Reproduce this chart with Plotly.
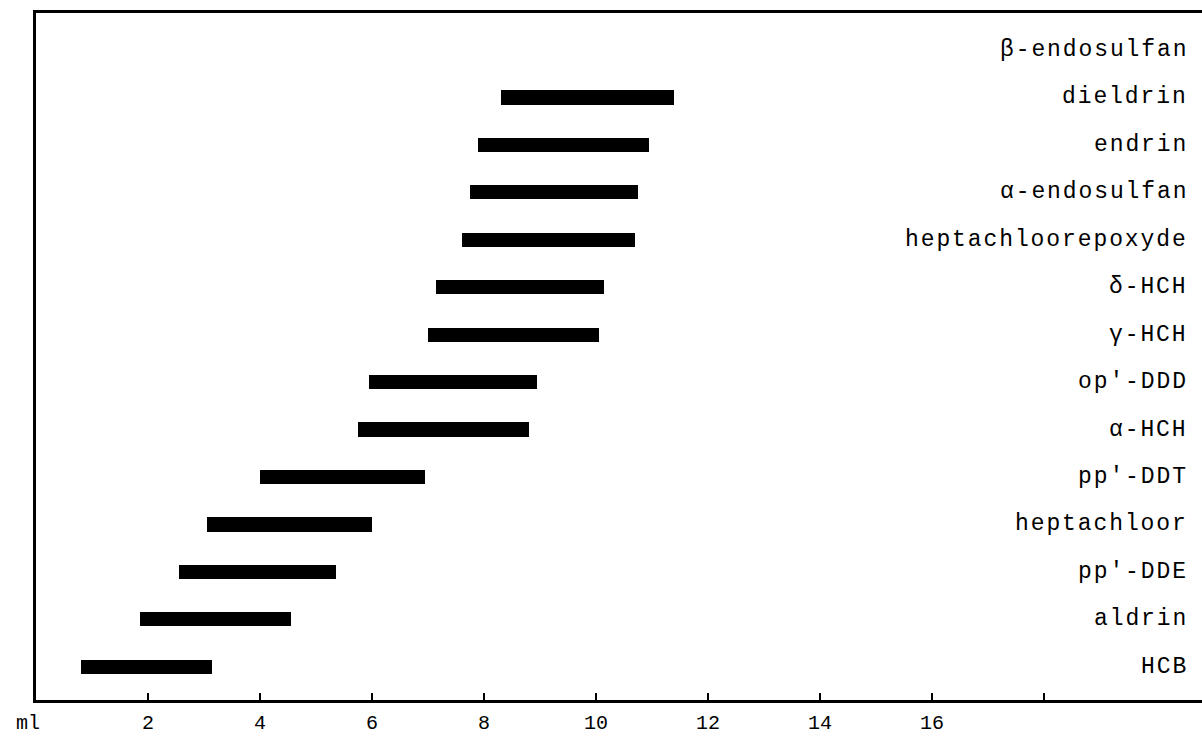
import plotly.graph_objects as go

compounds = ["β-endosulfan", "dieldrin", "endrin", "α-endosulfan", "heptachloorepoxyde",
             "δ-HCH", "γ-HCH", "op'-DDD", "α-HCH", "pp'-DDT", "heptachloor",
             "pp'-DDE", "aldrin", "HCB"]
start_ml = [None, 8.3, 7.9, 7.75, 7.6, 7.15, 7.0, 5.95, 5.75, 4.0, 3.05, 2.55, 1.85, 0.8]
end_ml = [None, 11.4, 10.95, 10.75, 10.7, 10.15, 10.05, 8.95, 8.8, 6.95, 6.0, 5.35, 4.55, 3.15]
tick_vals = [2, 4, 6, 8, 10, 12, 14, 16, 18]
tick_text = ["2", "4", "6", "8", "10", "12", "14", "16", ""]
axis_unit = "ml"

lengths = [None if s is None else e - s for s, e in zip(start_ml, end_ml)]

FONT = "Liberation Mono, DejaVu Sans Mono, monospace"

fig = go.Figure()
fig.add_trace(go.Bar(
    y=compounds, x=lengths, base=start_ml, orientation="h",
    marker=dict(color="black", line=dict(width=0)),
    width=0.3, showlegend=False, hoverinfo="skip",
))

order = list(reversed(compounds))
for name in compounds:
    fig.add_annotation(
        x=20.6, y=name, xref="x", yref="y",
        text=f'<span style="letter-spacing:1.9px">{name}</span>',
        showarrow=False, xanchor="right", yanchor="middle",
        font=dict(family=FONT, size=23, color="black"),
    )

fig.add_annotation(
    x=0, y=0, xref="paper", yref="paper", text=axis_unit,
    showarrow=False, xanchor="center", yanchor="top",
    xshift=-8, yshift=-10,
    font=dict(family=FONT, size=20, color="black"),
)

fig.update_xaxes(
    range=[0, 20.82], tickmode="array", tickvals=tick_vals, ticktext=tick_text,
    ticks="inside", ticklen=7, tickwidth=2, tickcolor="black",
    showline=True, linecolor="black", linewidth=2.5, mirror=True,
    showgrid=False, zeroline=False, ticklabelstandoff=2, automargin=False,
    tickfont=dict(family=FONT, size=20, color="black"),
)
fig.update_yaxes(
    type="category", categoryorder="array", categoryarray=order,
    range=[-0.7, 13.78], showticklabels=False, ticks="",
    showline=True, linecolor="black", linewidth=2.5,
    showgrid=False, zeroline=False, automargin=False,
)
fig.update_layout(
    width=1202, height=738,
    margin=dict(l=36, r=0, t=13, b=38),
    paper_bgcolor="white", plot_bgcolor="white",
    bargap=0,
)
fig.write_html("out.html")
